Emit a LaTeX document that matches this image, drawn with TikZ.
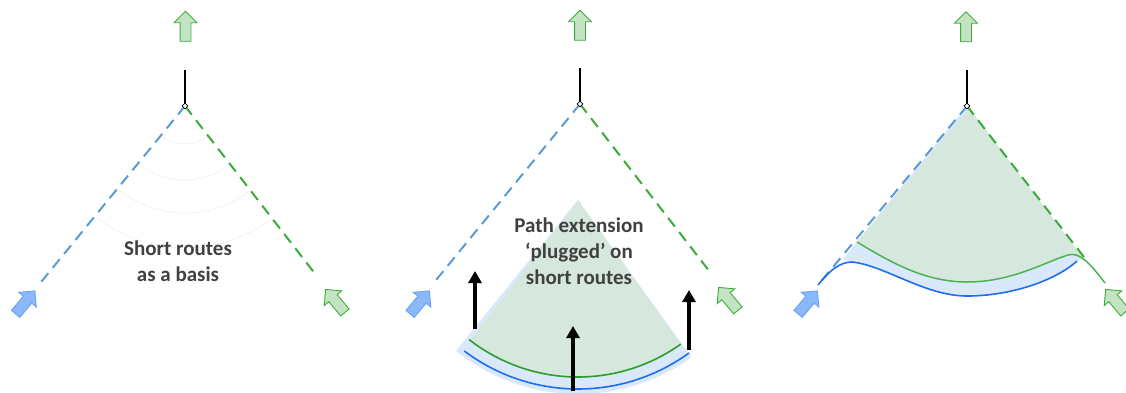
\documentclass[tikz,border=0pt]{standalone}
\usepackage{fontspec}
\setmainfont{Carlito}
\usetikzlibrary{shapes.arrows,shapes.geometric,arrows.meta}
\definecolor{bluedash}{HTML}{5B9BD5}
\definecolor{greendash}{HTML}{3DAA3D}
\definecolor{bluearrowfill}{HTML}{8AB8F8}
\definecolor{bluearrowdraw}{HTML}{6AA3EE}
\definecolor{greenarrowfill}{HTML}{C3E3C3}
\definecolor{greenarrowdraw}{HTML}{3DAE3D}
\definecolor{bluezone}{HTML}{DAE8FC}
\definecolor{greenzone}{HTML}{D6E8DD}
\definecolor{bluecurve}{HTML}{1C6EF2}
\definecolor{greencurve}{HTML}{2E9E2E}
\definecolor{greencurvelight}{HTML}{4DB34D}
\definecolor{txt}{HTML}{404040}
\tikzset{
  blockarrow/.style={single arrow, draw, line width=0.9pt, minimum height=30pt, inner sep=5pt, single arrow head extend=6pt, anchor=center},
  bluebl/.style={blockarrow, fill=bluearrowfill, draw=bluearrowdraw},
  greenbl/.style={blockarrow, fill=greenarrowfill, draw=greenarrowdraw},
  bluedashed/.style={draw=bluedash, line width=2pt, dash pattern=on 11pt off 7pt},
  greendashed/.style={draw=greendash, line width=2pt, dash pattern=on 11pt off 7pt},
  stem/.style={draw=black, line width=1.6pt},
  apexmark/.style={diamond, draw=black, fill=white, line width=0.6pt, inner sep=0pt, minimum size=6pt},
  captxt/.style={font=\bfseries\fontsize{21}{26}\selectfont, text=txt, align=center, inner sep=0pt},
  push/.style={line width=4pt, -{Triangle[length=12pt,width=13pt]}},
  guidearc/.style={draw=black!8, line width=0.5pt},
  bcurve/.style={draw=bluecurve, line width=1.6pt},
  gcurve/.style={draw=greencurve, line width=1.6pt},
}
\begin{document}
\begin{tikzpicture}[x=1pt,y=1pt]
\useasboundingbox (0,0) rectangle (1126,-392);

% ---------- Panel 1 ----------
\coordinate (A1) at (185,-106);
\coordinate (s1) at (185,-70);
\coordinate (b1) at (37,-287);
\coordinate (g1) at (316,-275);
\foreach \r in {38,74,107,142}
  \draw[guidearc, shift={(A1)}] (231:\r) arc[start angle=231, end angle=308, radius=\r];
\draw[bluedashed] (A1) -- (b1);
\draw[greendashed] (A1) -- (g1);
\draw[stem] (A1) -- (s1);
\node[apexmark] (m1) at (A1) {};
\node[greenbl, rotate=90] (up1) at (185.5,-29) {};
\node[bluebl, rotate=50] (in1) at (23.5,-304.5) {};
\node[greenbl, rotate=130] (ing1) at (337,-303) {};
\node[captxt] (t1) at (178,-261) {Short routes\\as a basis};

% ---------- Panel 2 ----------
\coordinate (A2) at (580,-104);
\coordinate (s2) at (580,-68);
\coordinate (b2) at (432,-285);
\coordinate (g2) at (710,-272);
\coordinate (S2) at (578,-200);
\fill[bluezone, shift={(S2)}] (0,0) -- (231:194) arc[start angle=231, end angle=305.8, radius=194] -- cycle;
\fill[greenzone, shift={(S2)}] (0,0) -- (232.5:178) arc[start angle=232.5, end angle=305.5, radius=178] -- cycle;
\draw[gcurve, shift={(S2)}] (232:177) arc[start angle=232, end angle=305.5, radius=177];
\draw[bcurve, shift={(S2)}] (233:189) arc[start angle=233, end angle=306, radius=189];
\draw[bluedashed] (A2) -- (b2);
\draw[greendashed] (A2) -- (g2);
\draw[stem] (A2) -- (s2);
\node[apexmark] (m2) at (A2) {};
\node[greenbl, rotate=90] (up2) at (580,-28) {};
\node[bluebl, rotate=50] (in2) at (418,-304.5) {};
\node[greenbl, rotate=130] (ing2) at (730,-301) {};
\coordinate (p1s) at (475,-329); \coordinate (p1e) at (475,-271);
\coordinate (p2s) at (573,-391); \coordinate (p2e) at (573,-326);
\coordinate (p3s) at (689,-350); \coordinate (p3e) at (689,-290);
\draw[push] (p1s) -- (p1e);
\draw[push] (p2s) -- (p2e);
\draw[push] (p3s) -- (p3e);
\node[captxt] (t2) at (579,-251) {Path extension\\‘plugged’ on\\short routes};

% ---------- Panel 3 ----------
\coordinate (A3) at (967,-106);
\coordinate (s3) at (967,-70);
\coordinate (b3) at (818,-285);
\coordinate (g3) at (1087,-261);
\fill[bluezone] (966,-107) -- (843,-259) -- (852,-262)
  .. controls (885,-265.5) and (925,-296) .. (967,-296)
  .. controls (1010,-296) and (1055,-281) .. (1077,-261)
  -- (1083,-260) -- cycle;
\fill[greenzone] (969,-108) -- (857,-242)
  .. controls (890,-262) and (925,-282) .. (967,-282)
  .. controls (1012,-282) and (1045,-262) .. (1068,-255)
  -- (1084,-259) -- cycle;
\draw[bluedashed] (A3) -- (b3);
\draw[greendashed] (A3) -- (g3);
\draw[bcurve] (b3) .. controls (830,-270) and (840,-262) .. (852,-262)
  .. controls (885,-265.5) and (925,-296) .. (967,-296)
  .. controls (1010,-296) and (1055,-281) .. (1077,-261);
\draw[draw=greencurvelight, line width=1.5pt] (857,-242)
  .. controls (890,-262) and (925,-282) .. (967,-282)
  .. controls (1012,-282) and (1045,-262) .. (1068,-255)
  .. controls (1080,-251) and (1092,-266) .. (1105,-283);
\draw[stem] (A3) -- (s3);
\node[apexmark] (m3) at (A3) {};
\node[greenbl, rotate=90] (up3) at (966,-29.5) {};
\node[bluebl, rotate=50] (in3) at (806,-304.5) {};
\node[greenbl, rotate=130] (ing3) at (1117,-303) {};
\end{tikzpicture}
\end{document}
